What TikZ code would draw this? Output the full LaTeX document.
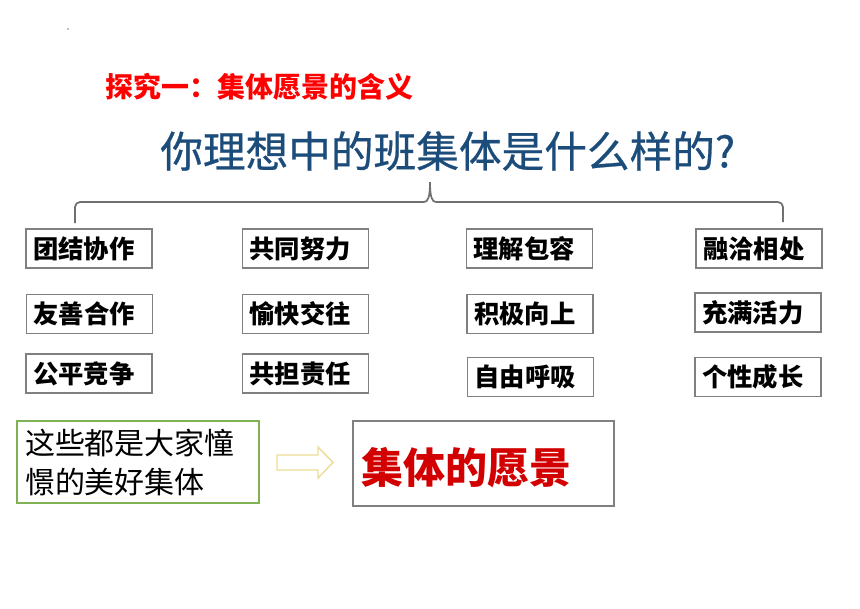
\documentclass[tikz,border=0pt]{standalone}
\usepackage{fontspec}
\newfontfamily\cjk{Noto Sans CJK SC}
\newfontfamily\cjkq{Noto Sans CJK SC}[FakeBold=0.6]
\definecolor{titlered}{RGB}{255,0,0}
\definecolor{qblue}{RGB}{28,76,122}
\definecolor{boxgray}{RGB}{128,128,128}
\definecolor{bracegray}{RGB}{112,112,112}
\definecolor{greenline}{RGB}{128,178,84}
\definecolor{deepred}{RGB}{210,0,0}
\definecolor{arrowyellow}{RGB}{236,220,150}
\tikzset{
  itembox/.style={draw=boxgray, line width=1.1pt, minimum width=94.5pt, minimum height=29.25pt,
    inner xsep=5.25pt, inner ysep=0pt, text width=84pt, align=left,
    font=\cjk\bfseries\fontsize{19pt}{22pt}\selectfont},
  notebox/.style={draw=greenline, line width=1.5pt, minimum width=181.5pt, minimum height=61.5pt,
    inner xsep=6pt, text width=169.5pt, align=left,
    font=\cjk\fontsize{22.5pt}{29.25pt}\selectfont},
  visionbox/.style={draw=boxgray, line width=1.1pt, minimum width=195.75pt, minimum height=63.75pt,
    inner xsep=6pt, inner ysep=0pt, text width=183.75pt, align=left, text height=33.5pt, text depth=4pt,
    font=\cjk\bfseries\fontsize{31.5pt}{36pt}\selectfont, text=deepred},
}
\begin{document}
\begin{tikzpicture}[x=0.75pt,y=-0.75pt]
\useasboundingbox (0,0) rectangle (860,608);
\fill[white] (0,0) rectangle (860,608);
% tiny dot
\fill[boxgray] (68,29) circle (0.8);
% title
\node[anchor=west, inner sep=0pt, text=titlered, font=\cjk\bfseries\fontsize{21pt}{24pt}\selectfont] (title) at (105,87) {探究一：集体愿景的含义};
% question
\node[anchor=west, inner sep=0pt, text=qblue, font=\cjkq\fontsize{32pt}{36pt}\selectfont] (question) at (160,151) {你理想中的班集体是什么样的?};
% brace
\coordinate (tip) at (430,182);
\draw[bracegray, line width=1.3pt]
  (75,223) -- (75,207) arc[start angle=180, end angle=270, radius=5] -- (424,202)
  .. controls (428,202) and (430,197) .. (tip)
  .. controls (430,197) and (432,202) .. (436,202) -- (778,202)
  arc[start angle=-90, end angle=0, radius=5] -- (783,222);
% items
\node[itembox] (i11) at (89,248.5) {团结协作};
\node[itembox] (i12) at (305.5,248.5) {共同努力};
\node[itembox] (i13) at (529.5,248.5) {理解包容};
\node[itembox] (i14) at (759,248.5) {融洽相处};
\node[itembox] (i21) at (89.5,314) {友善合作};
\node[itembox] (i22) at (305.5,314) {愉快交往};
\node[itembox] (i23) at (530,314) {积极向上};
\node[itembox] (i24) at (758,312.5) {充满活力};
\node[itembox] (i31) at (89,373.5) {公平竞争};
\node[itembox] (i32) at (305.5,373.5) {共担责任};
\node[itembox] (i33) at (530.5,377) {自由呼吸};
\node[itembox] (i34) at (758,377) {个性成长};
% bottom
\node[notebox] (note) at (138,462) {这些都是大家憧\\憬的美好集体};
\node[visionbox] (vision) at (483.5,463.5) {集体的愿景};
% block arrow
\draw[arrowyellow, line width=1.1pt, fill=white]
  (277,455) -- (318,455) -- (318,447) -- (333,462.5) -- (318,478) -- (318,470) -- (277,470) -- cycle;
\end{tikzpicture}
\end{document}
